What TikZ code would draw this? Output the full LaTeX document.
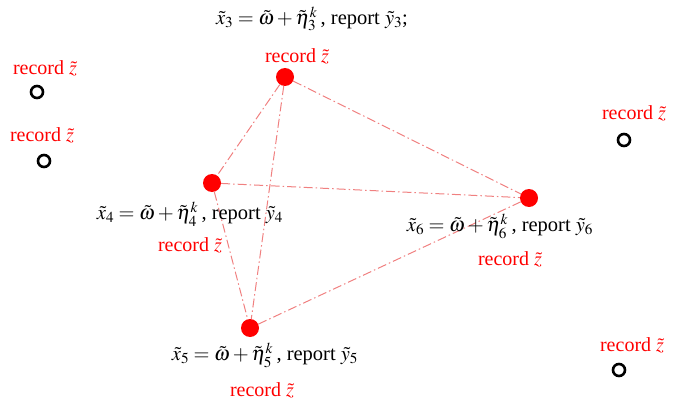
\documentclass[tikz,border=0pt]{standalone}
\usepackage{mathptmx}
\usepackage{fontspec}
\setmainfont{Liberation Serif}
\begin{document}
\begin{tikzpicture}[x=1pt,y=-1pt,
  agent/.style={circle,fill=red,inner sep=0pt,minimum size=18pt},
  idle/.style={circle,draw=black,line width=2.6pt,inner sep=0pt,minimum size=12pt},
  rec/.style={text=red,font=\fontsize{20}{24}\selectfont,inner sep=0pt},
  eq/.style={text=black,font=\fontsize{20.5}{24}\selectfont,inner sep=0pt},
  link/.style={draw={rgb,255:red,240;green,128;blue,128},line width=1pt,dash pattern=on 9pt off 3pt on 1.5pt off 3pt}]
\useasboundingbox (0,0) rectangle (677,401);
\node[agent] (p3) at (285,77) {};
\node[agent] (p4) at (212,183) {};
\node[agent] (p6) at (529,198) {};
\node[agent] (p5) at (250,328) {};
\draw[link] (p3) -- (p4);
\draw[link] (p3) -- (p6);
\draw[link] (p3) -- (p5);
\draw[link] (p4) -- (p6);
\draw[link] (p4) -- (p5);
\draw[link] (p5) -- (p6);
\node[eq] (e3) at (312,19) {$\tilde{x}_3=\tilde{\omega}+\tilde{\eta}_3^k$\,, report $\tilde{y}_3$;};
\node[rec] (r3) at (297,56) {record $\tilde{z}$};
\node[eq] (e4) at (190,214) {$\tilde{x}_4=\tilde{\omega}+\tilde{\eta}_4^k$\,, report $\tilde{y}_4$};
\node[rec] (r4) at (190,245) {record $\tilde{z}$};
\node[eq] (e6) at (500,226) {$\tilde{x}_6=\tilde{\omega}+\tilde{\eta}_6^k$\,, report $\tilde{y}_6$};
\node[rec] (r6) at (510,259) {record $\tilde{z}$};
\node[eq] (e5) at (265,355) {$\tilde{x}_5=\tilde{\omega}+\tilde{\eta}_5^k$\,, report $\tilde{y}_5$};
\node[rec] (r5) at (262,390) {record $\tilde{z}$};
\node[idle] (o1) at (37,92) {};
\node[idle] (o2) at (44,161) {};
\node[idle] (o3) at (624,140) {};
\node[idle] (o4) at (619,370) {};
\node[rec] (r1) at (45,68) {record $\tilde{z}$};
\node[rec] (r2) at (42,135) {record $\tilde{z}$};
\node[rec] (r7) at (634,113) {record $\tilde{z}$};
\node[rec] (r8) at (632,345) {record $\tilde{z}$};
\end{tikzpicture}
\end{document}
